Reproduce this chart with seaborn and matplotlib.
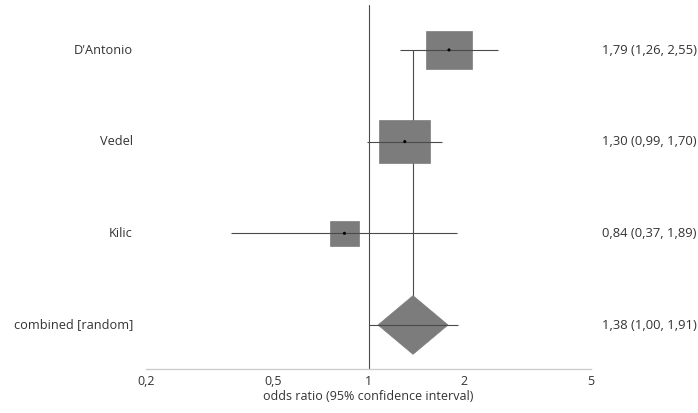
import numpy as np
import pandas as pd
import matplotlib
matplotlib.use("Agg")
import matplotlib.pyplot as plt
from matplotlib.patches import Rectangle, Polygon
import seaborn as sns

# ---- data ----
studies = ["D'Antonio", "Vedel", "Kilic"]
or_est = [1.79, 1.30, 0.84]
ci_low = [1.26, 0.99, 0.37]
ci_high = [2.55, 1.70, 1.89]
weights = [0.90, 1.00, 0.57]          # relative box size
pooled_label = "combined [random]"
pooled_est = 1.38
pooled_low = 1.00
pooled_high = 1.91
right_labels = ["1,79 (1,26, 2,55)", "1,30 (0,99, 1,70)", "0,84 (0,37, 1,89)", "1,38 (1,00, 1,91)"]
xticks = [0.2, 0.5, 1, 2, 5]
xtick_labels = ["0,2", "0,5", "1", "2", "5"]
xlabel = "odds ratio (95% confidence interval)"

sns.set_style("white")
plt.rcParams['font.family'] = ['Open Sans', 'DejaVu Sans']

df = pd.DataFrame({"study": studies, "est": or_est, "lo": ci_low, "hi": ci_high,
                   "w": weights, "row": np.arange(len(studies))})

fig = plt.figure(figsize=(6.98, 4.13), dpi=100)
ax = fig.add_axes([146/698, 1-369/413, (591-146)/698, (369-5)/413])
ax.set_xscale("log")
ax.set_xlim(0.2, 5)
ax.set_ylim(3.48, -0.49)

line_col = "#4a4a4a"
box_col = "#7c7c7c"
txt_col = "#333333"

# reference line at 1
ax.axvline(1, color=line_col, lw=0.8, zorder=1)

# boxes
box_hw = 0.0805   # log10 half-width at weight 1
box_hh = 0.235    # data half-height at weight 1
for _, r in df.iterrows():
    hw = box_hw * r.w
    hh = box_hh * r.w
    x0 = r.est / 10**hw
    x1 = r.est * 10**hw
    ax.add_patch(Rectangle((x0, r.row - hh), x1 - x0, 2*hh, facecolor=box_col,
                           edgecolor=box_col, lw=0.5, zorder=2))
    ax.hlines(r.row, r.lo, r.hi, color=line_col, lw=0.8, zorder=3)

sns.scatterplot(data=df, x="est", y="row", color="black", s=5, ax=ax, zorder=4,
                edgecolor="none", legend=False)

# pooled diamond
prow = len(studies)
dhw = 0.110
dhh = 0.32
ax.add_patch(Polygon([(pooled_est / 10**dhw, prow), (pooled_est, prow - dhh),
                      (pooled_est * 10**dhw, prow), (pooled_est, prow + dhh)],
                     closed=True, facecolor=box_col, edgecolor=box_col, lw=0.5, zorder=2))
ax.hlines(prow, pooled_low, pooled_high, color=line_col, lw=0.8, zorder=3)
ax.vlines(pooled_est, 0, prow - dhh, color=line_col, lw=0.8, zorder=1)

# axes styling
for s in ["top", "left", "right"]:
    ax.spines[s].set_visible(False)
ax.spines["bottom"].set_color("#cccccc")
ax.spines["bottom"].set_linewidth(1.0)
ax.set_yticks([])
ax.set_xticks(xticks)
ax.set_xticklabels(xtick_labels)
ax.minorticks_off()
ax.tick_params(axis="x", direction="in", length=3, color="#cccccc", labelsize=9,
               labelcolor=txt_col, pad=4)
ax.set_xlabel(xlabel, fontsize=9, color=txt_col, labelpad=2)
ax.set_ylabel("")

# row labels
all_labels = studies + [pooled_label]
for i, lab in enumerate(all_labels):
    y_fig = 1 - (50 + i * 91.67) / 413
    fig.text(133/698, y_fig, lab, ha="right", va="center", fontsize=9.2, color=txt_col)
    fig.text(697/698, y_fig, right_labels[i], ha="right", va="center", fontsize=9.4,
             color=txt_col)

fig.savefig("out.png", dpi=100)
